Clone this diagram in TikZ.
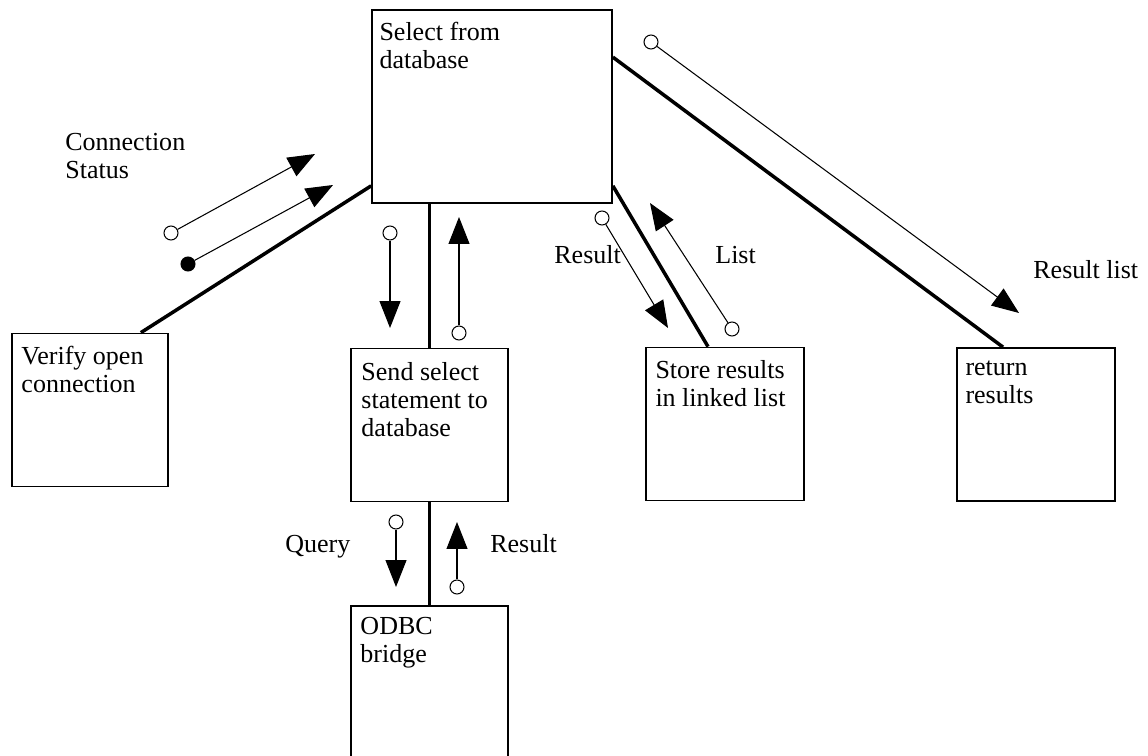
\documentclass[tikz,border=0pt]{standalone}
\usepackage{fontspec}
\setmainfont{Liberation Serif}
\usetikzlibrary{arrows.meta,calc}

\begin{document}
\begin{tikzpicture}[x=0.02cm, y=-0.02cm,
    module/.style={draw, line width=1pt, minimum width=3.14cm, minimum height=3.06cm, inner sep=0pt},
    modtext/.style={anchor=north west, inner sep=0pt, align=left, font=\fontsize{14.8}{16}\selectfont, execute at begin node=\strut},
    tag/.style={anchor=base west, inner sep=0pt, font=\fontsize{14.8}{16}\selectfont},
    call/.style={line width=2pt},
    couple/.style={line width=0.6pt, -{Triangle[length=0.54cm, width=0.42cm]}},
    flag/.style={circle, draw, line width=0.6pt, fill=white, minimum size=0.28cm, inner sep=0pt},
    flagon/.style={flag, fill=black}]
    \useasboundingbox (0,0) rectangle (1148,756);
    \clip (0,0) rectangle (1148,756);

    % modules
    \node[module, minimum width=4.8cm, minimum height=3.86cm] (sel) at (492,106.5) {};
    \node[module, minimum width=3.12cm] (ver) at (90,410) {};
    \node[module] (snd) at (429.5,425) {};
    \node[module, minimum width=3.16cm] (sto) at (725,424) {};
    \node[module, minimum width=3.16cm] (ret) at (1036,424.5) {};
    \node[module, minimum height=3.4cm] (odbc) at (429.5,691) {};

    \node[modtext] (selT) at ([shift={(8,13)}]sel.north west) {Select from\\database};
    \node[modtext] (verT) at ([shift={(10,13)}]ver.north west) {Verify open\\connection};
    \node[modtext] (sndT) at ([shift={(11,14)}]snd.north west) {Send select\\statement to\\database};
    \node[modtext] (stoT) at ([shift={(10,13)}]sto.north west) {Store results\\in linked list};
    \node[modtext] (retT) at ([shift={(9,13)}]ret.north west) {return\\results};
    \node[modtext] (odbcT) at ([shift={(10,12)}]odbc.north west) {ODBC\\bridge};

    % calls
    \draw[call] ($(ver.north east)+(-28,0)$) -- ($(sel.south west)+(0,-18)$);
    \draw[call] (snd.north |- sel.south) -- (snd.north);
    \draw[call] (snd.south) -- (odbc.north);
    \draw[call] ($(sel.south east)+(0,-18)$) -- ($(sto.north)+(-17,0)$);
    \draw[call] ($(sel.north east)+(0,48)$) -- ($(ret.north)+(-33,0)$);

    % data and control couples
    \node[flag] (cnF) at (171,233) {};
    \coordinate (cnT) at (315,154);
    \draw[couple] (cnF) -- (cnT);
    \node[flagon] (stF) at (188,264) {};
    \coordinate (stT) at (333,185);
    \draw[couple] (stF) -- (stT);
    \node[flag] (sqF) at (390,233) {};
    \coordinate (sqT) at (390,328);
    \draw[couple] (sqF) -- (sqT);
    \node[flag] (srF) at (459,333) {};
    \coordinate (srT) at (459,217);
    \draw[couple] (srF) -- (srT);
    \node[flag] (rsF) at (602,218) {};
    \coordinate (rsT) at (668,328);
    \draw[couple] (rsF) -- (rsT);
    \node[flag] (lsF) at (732,329) {};
    \coordinate (lsT) at (650,203);
    \draw[couple] (lsF) -- (lsT);
    \node[flag] (rlF) at (651,42) {};
    \coordinate (rlT) at (1019,313);
    \draw[couple] (rlF) -- (rlT);
    \node[flag] (qyF) at (396,522) {};
    \coordinate (qyT) at (396,587);
    \draw[couple] (qyF) -- (qyT);
    \node[flag] (odF) at (457,587) {};
    \coordinate (odT) at (457,522);
    \draw[couple] (odF) -- (odT);

    % couple labels
    \node[modtext] (cnL) at (65,133) {Connection\\Status};
    \node[tag] (rsL) at (554,264) {Result};
    \node[tag] (lsL) at (715,264) {List};
    \node[tag] (rlL) at (1033,279) {Result list};
    \node[tag] (qyL) at (285,552) {Query};
    \node[tag] (odL) at (490,552) {Result};
\end{tikzpicture}
\end{document}
